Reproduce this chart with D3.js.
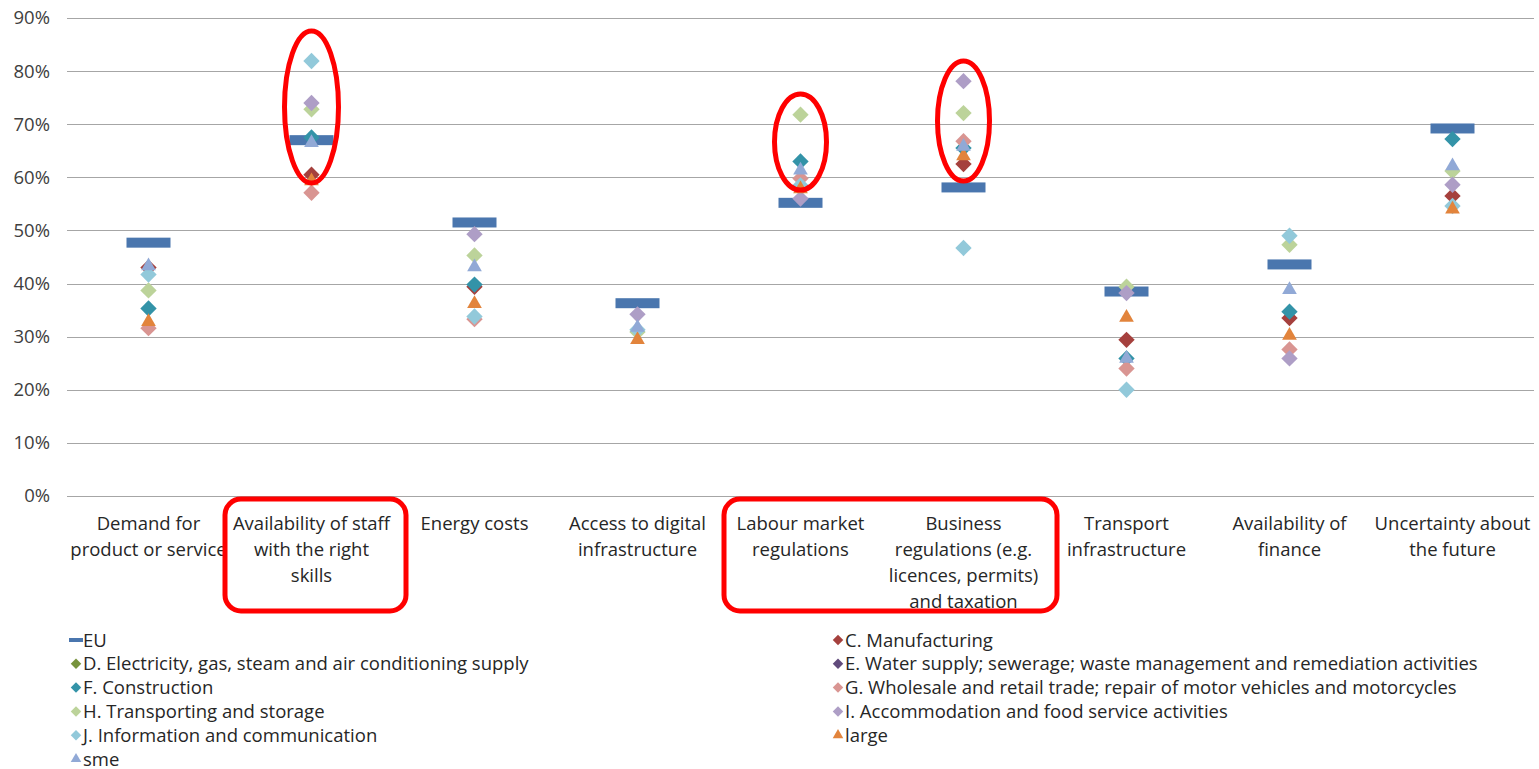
<!DOCTYPE html>
<html>
<head>
<meta charset="utf-8">
<script src="https://cdn.jsdelivr.net/npm/d3@7/dist/d3.min.js"></script>
<style>
  html, body { margin: 0; padding: 0; background: #fff; }
  svg { display: block; font-family: "Open Sans", Lato, sans-serif; }
</style>
</head>
<body>
<svg id="chart" width="1539" height="769"></svg>
<script>
// Categories (obstacles) shown on the x axis, one label line per entry
const categories = [
  ["Demand for", "product or service"],
  ["Availability of staff", "with the right", "skills"],
  ["Energy costs"],
  ["Access to digital", "infrastructure"],
  ["Labour market", "regulations"],
  ["Business", "regulations (e.g.", "licences, permits)", "and taxation"],
  ["Transport", "infrastructure"],
  ["Availability of", "finance"],
  ["Uncertainty about", "the future"]
];

// Share of firms (%) per category; null = not shown
const euValues       = [47.7, 67.0, 51.5, 36.3, 55.2, 58.1, 38.5, 43.6, 69.2];
const manufValues    = [43.0, 60.5, 39.4, null, null, 62.5, 29.4, 33.5, 56.5];
const electricValues = [null, null, null, null, null, null, null, null, null];
const waterValues    = [null, null, null, null, null, null, null, null, null];
const constrValues   = [35.3, 67.5, 39.8, null, 63.0, 65.5, 25.9, 34.7, 67.2];
const tradeValues    = [31.6, 57.1, 33.3, null, 59.8, 66.8, 24.0, 27.6, null];
const transpValues   = [38.7, 72.8, 45.3, 30.9, 71.8, 72.1, 39.4, 47.3, 61.2];
const accomValues    = [null, 74.0, 49.3, 34.2, 56.0, 78.1, 38.2, 25.9, 58.6];
const infoValues     = [41.7, 81.9, 33.8, 31.3, 58.5, 46.7, 20.0, 49.0, 54.6];
const largeValues    = [33.0, 59.5, 36.4, 29.6, 58.0, 64.2, 33.8, 30.4, 54.2];
const smeValues      = [43.5, 66.7, 43.3, 31.9, 61.5, 66.0, 26.1, 39.0, 62.3];

const yTicks = [0, 10, 20, 30, 40, 50, 60, 70, 80, 90];

// Series definitions in drawing order (later ones on top)
const series = [
  { name: "EU", values: euValues, color: "#4A76AE", shape: "dash" },
  { name: "C. Manufacturing", values: manufValues, color: "#A5403D", shape: "diamond" },
  { name: "D. Electricity, gas, steam and air conditioning supply", values: electricValues, color: "#77933C", shape: "diamond" },
  { name: "E. Water supply; sewerage; waste management and remediation activities", values: waterValues, color: "#604A7B", shape: "diamond" },
  { name: "F. Construction", values: constrValues, color: "#3393A8", shape: "diamond" },
  { name: "G. Wholesale and retail trade; repair of motor vehicles and motorcycles", values: tradeValues, color: "#D99592", shape: "diamond" },
  { name: "H. Transporting and storage", values: transpValues, color: "#BCD39A", shape: "diamond" },
  { name: "I. Accommodation and food service activities", values: accomValues, color: "#AE9EC6", shape: "diamond" },
  { name: "J. Information and communication", values: infoValues, color: "#92C9DA", shape: "diamond" },
  { name: "large", values: largeValues, color: "#E2843C", shape: "triangle" },
  { name: "sme", values: smeValues, color: "#91A9D6", shape: "triangle" }
];

const FONT = 18.5;
const svg = d3.select("#chart");
const plot = { left: 67, right: 1534, top: 18, bottom: 496 };

const x = d3.scaleBand()
  .domain(d3.range(categories.length))
  .range([plot.left, plot.right]);

const y = d3.scaleLinear()
  .domain([0, 90])
  .range([plot.bottom, plot.top]);

// Horizontal gridlines
svg.append("g")
  .selectAll("line")
  .data(yTicks)
  .join("line")
  .attr("x1", plot.left)
  .attr("x2", plot.right)
  .attr("y1", d => Math.round(y(d)) + 0.5)
  .attr("y2", d => Math.round(y(d)) + 0.5)
  .attr("stroke", "#a6a6a6")
  .attr("stroke-width", 1.2);

// Y axis labels
const yAxis = d3.axisLeft(y)
  .tickValues(yTicks)
  .tickFormat(d => d + "%")
  .tickSize(0)
  .tickPadding(17);
const gy = svg.append("g")
  .attr("transform", `translate(${plot.left},0)`)
  .call(yAxis);
gy.select(".domain").remove();
gy.selectAll("text")
  .attr("font-size", FONT)
  .attr("font-family", "'Open Sans', Lato, sans-serif")
  .attr("fill", "#404040");

// Category labels
const cx = i => x(i) + x.bandwidth() / 2;
const catG = svg.append("g");
categories.forEach((lines, i) => {
  const t = catG.append("text")
    .attr("x", cx(i))
    .attr("y", 530)
    .attr("text-anchor", "middle")
    .attr("font-size", FONT)
    .attr("fill", "#262626");
  lines.forEach((ln, k) => {
    t.append("tspan")
      .attr("x", cx(i))
      .attr("dy", k === 0 ? 0 : 26)
      .text(ln);
  });
});

// Marker shapes
const diamond = d3.symbol().type(d3.symbolDiamond2).size(170);
const triangle = d3.symbol().type(d3.symbolTriangle2).size(155);

const markG = svg.append("g");
series.forEach(s => {
  const pts = s.values.map((v, i) => ({ v, i })).filter(p => p.v !== null);
  const g = markG.append("g");
  if (s.shape === "dash") {
    g.selectAll("rect")
      .data(pts)
      .join("rect")
      .attr("x", p => cx(p.i) - 22)
      .attr("y", p => y(p.v) - 5)
      .attr("width", 44)
      .attr("height", 10)
      .attr("fill", s.color);
  } else {
    g.selectAll("path")
      .data(pts)
      .join("path")
      .attr("d", s.shape === "diamond" ? diamond : triangle)
      .attr("transform", p => `translate(${cx(p.i)},${y(p.v) + (s.shape === "triangle" ? 1 : 0)})`)
      .attr("fill", s.color);
  }
});

// Legend: two columns, row-major order
const legend = svg.append("g");
const legDiamond = d3.symbol().type(d3.symbolDiamond2).size(70);
const legTriangle = d3.symbol().type(d3.symbolTriangle2).size(80);
series.forEach((s, k) => {
  const col = k % 2, row = Math.floor(k / 2);
  const lx = col === 0 ? 76 : 838;
  const ly = 640 + row * 23.8;
  const g = legend.append("g").attr("transform", `translate(${lx},${ly})`);
  if (s.shape === "dash") {
    g.append("rect").attr("x", -7).attr("y", -2).attr("width", 14).attr("height", 4).attr("fill", s.color);
  } else {
    g.append("path")
      .attr("d", s.shape === "diamond" ? legDiamond : legTriangle)
      .attr("fill", s.color);
  }
  g.append("text")
    .attr("x", 7)
    .attr("y", 6.5)
    .attr("font-size", FONT)
    .attr("fill", "#262626")
    .text(s.name);
});

// Red highlight annotations
const ann = svg.append("g")
  .attr("fill", "none")
  .attr("stroke", "#ff0000")
  .attr("stroke-width", 5);
const ellipses = [[1, 107, 27, 76], [4, 142, 26, 48], [5, 121, 26, 60]];
ellipses.forEach(([i, ey, rx, ry]) => {
  ann.append("ellipse").attr("cx", cx(i)).attr("cy", ey).attr("rx", rx).attr("ry", ry);
});
// Rounded boxes around highlighted category labels: [first, last, left pad, right pad]
const boxes = [[1, 1, -5, 13], [4, 5, 5, 12]];
boxes.forEach(([a, b, p0, p1]) => {
  const x0 = x(a) + p0, x1 = x(b) + x.bandwidth() + p1;
  ann.append("rect")
    .attr("x", x0).attr("y", 499)
    .attr("width", x1 - x0).attr("height", 112)
    .attr("rx", 16).attr("ry", 16);
});
</script>
</body>
</html>
